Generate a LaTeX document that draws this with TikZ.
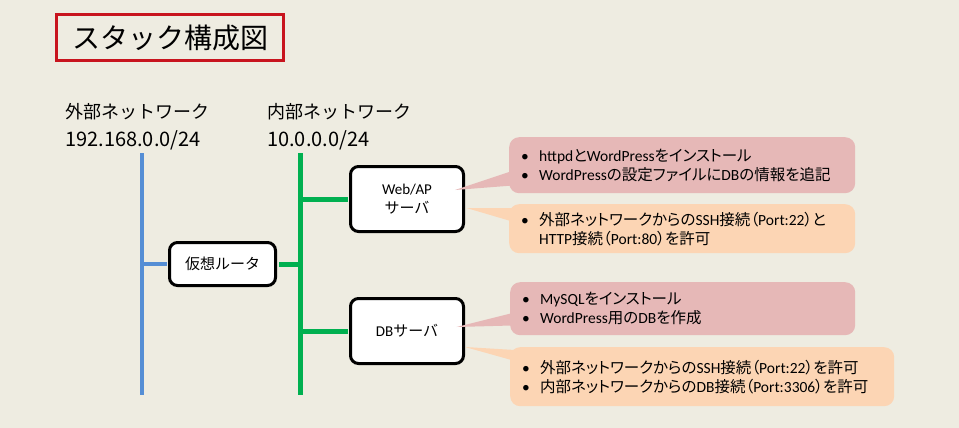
\documentclass[tikz,border=0pt]{standalone}
\usepackage{fontspec}
\setmainfont{Carlito}
\newfontfamily\jp[RawFeature=+palt]{Noto Sans CJK JP}
\newfontfamily\jpm{Noto Sans CJK JP}
\usetikzlibrary{calc}
\usepackage{xcolor}

\definecolor{bgtan}{RGB}{238,236,225}
\definecolor{titlered}{RGB}{200,20,30}
\definecolor{extblue}{RGB}{85,142,213}
\definecolor{intgreen}{RGB}{0,176,80}
\definecolor{taskpink}{RGB}{230,184,183}
\definecolor{fworange}{RGB}{252,213,180}

\newcommand{\J}[1]{{\jp #1}}
\newcommand{\itm}{\makebox[20pt][l]{\hspace{2pt}\textbullet}}

\begin{document}
\begin{tikzpicture}[x=1pt, y=-1pt,
    srv/.style={draw, line width=3pt, rounded corners=8pt, fill=white, align=center,
      inner sep=0pt, font=\jpm\fontsize{15}{19}\selectfont},
    extline/.style={extblue, line width=4pt},
    intline/.style={intgreen, line width=5pt},
    link/.style={shorten >=1.5pt},
    note/.style={rounded corners=10pt, anchor=north west, align=left, inner xsep=10pt,
      inner ysep=0pt, font=\fontsize{15.5}{19}\selectfont}]

  \fill[bgtan] (0,0) rectangle (959,428);
  \useasboundingbox (0,0) rectangle (959,428);

  % title
  \node[draw=titlered, line width=3pt, minimum width=227pt, minimum height=46pt,
    font=\jpm\fontsize{28}{32}\selectfont] (title) at (170,37.5) {スタック構成図};

  % networks
  \node[anchor=west, inner sep=0pt, font=\jpm\fontsize{18}{22}\selectfont] (extname) at (65,112) {外部ネットワーク};
  \node[anchor=west, inner sep=0pt, font=\jpm\fontsize{20}{24}\selectfont] (extaddr) at (65,140) {192.168.0.0/24};
  \node[anchor=west, inner sep=0pt, font=\jpm\fontsize{18}{22}\selectfont] (intname) at (267,112) {内部ネットワーク};
  \node[anchor=west, inner sep=0pt, font=\jpm\fontsize{20}{24}\selectfont] (intaddr) at (267,140) {10.0.0.0/24};

  \coordinate (exttop) at (142,153);
  \coordinate (extbot) at (142,395);
  \coordinate (inttop) at (300,153);
  \coordinate (intbot) at (300,395);
  \draw[extline] (exttop) -- (extbot);
  \draw[intline] (inttop) -- (intbot);

  % servers
  \node[srv, minimum width=106pt, minimum height=43pt] (router) at (222.5,264) {仮想ルータ};
  \node[srv, minimum width=113pt, minimum height=65pt] (web) at (407,199) {{\rmfamily Web/AP}\\サーバ};
  \node[srv, minimum width=113pt, minimum height=65pt] (db) at (407,331) {{\rmfamily DB}サーバ};

  \draw[extline, link] (exttop |- router.west) -- (router.west);
  \draw[intline, link] (inttop |- router.east) -- (router.east);
  \draw[intline, link] (inttop |- web.west) -- (web.west);
  \draw[intline, link] (inttop |- db.west) -- (db.west);

  % notes
  \node[note, fill=taskpink, text width=326pt, minimum height=56pt] (webtask) at (509,137)
    {\itm httpd\J{と}WordPress\J{をインストール}\\
     \itm WordPress\J{の設定ファイルに}DB\J{の情報を追記}};
  \node[note, fill=fworange, text width=326pt, minimum height=49pt] (webfw) at (509,204)
    {\itm\J{外部ネットワークからの}SSH\J{接続（}Port:22\J{）と}\\
     \makebox[20pt]{}HTTP\J{接続（}Port:80\J{）を許可}};
  \node[note, fill=taskpink, text width=325pt, minimum height=53pt] (dbtask) at (510,282)
    {\itm MySQL\J{をインストール}\\
     \itm WordPress\J{用の}DB\J{を作成}};
  \node[note, fill=fworange, text width=364pt, minimum height=59pt] (dbfw) at (510,347)
    {\itm\J{外部ネットワークからの}SSH\J{接続（}Port:22\J{）を許可}\\
     \itm\J{内部ネットワークからの}DB\J{接続（}Port:3306\J{）を許可}};

  \fill[taskpink] ($(web.east)+(-10,-9)$) -- ($(webtask.south west)+(5,-23)$) -- ($(webtask.south west)+(5,-8)$) -- cycle;
  \fill[fworange] ($(web.east)+(1.5,9)$) -- ($(webfw.north west)+(5,4)$) -- ($(webfw.north west)+(5,18)$) -- cycle;
  \fill[taskpink] ($(db.east)+(-8.5,-4)$) -- ($(dbtask.south west)+(5,-23)$) -- ($(dbtask.south west)+(5,-10)$) -- cycle;
  \fill[fworange] ($(db.east)+(0,16)$) -- ($(dbfw.north west)+(5,3)$) -- ($(dbfw.north west)+(5,14)$) -- cycle;

\end{tikzpicture}
\end{document}
